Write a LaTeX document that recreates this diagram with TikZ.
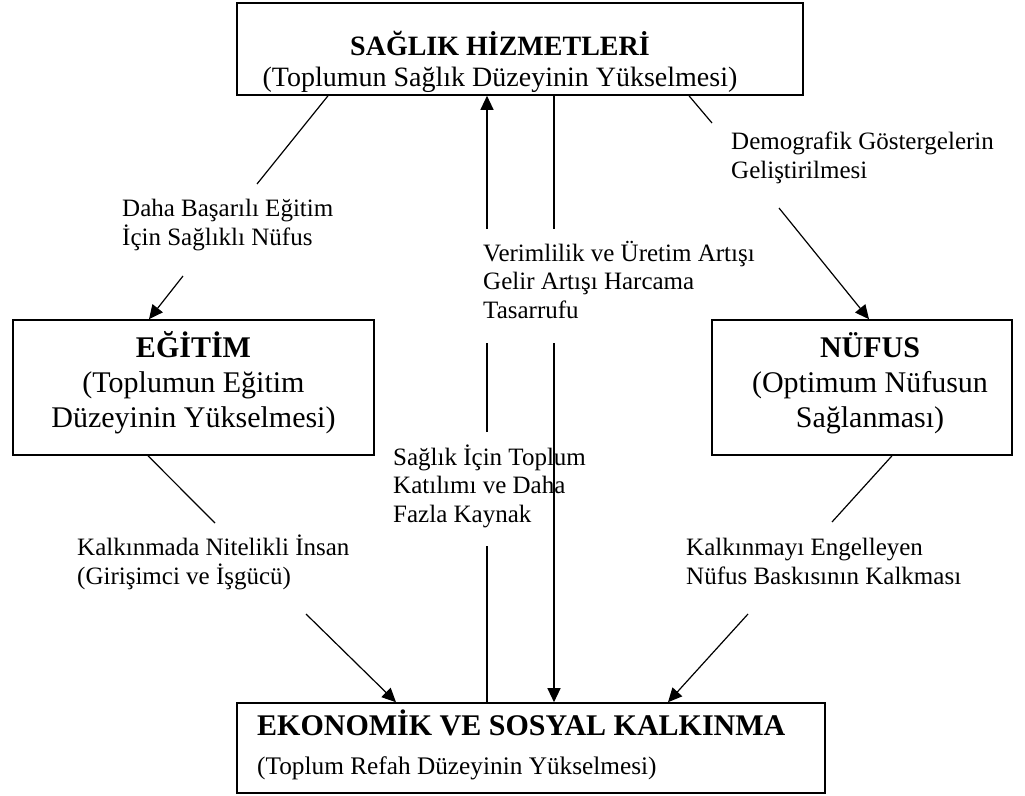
\documentclass[tikz,border=0pt]{standalone}
\usepackage{fontspec}
\setmainfont{Liberation Serif}
\usetikzlibrary{arrows.meta}

\begin{document}
\begin{tikzpicture}[
  x=1pt, y=-1pt,
  box/.style={draw, line width=1.6pt, rectangle, inner sep=0pt},
  link/.style={line width=1.2pt},
  arr/.style={-{Triangle[length=14pt,width=13pt]}},
  % multi-line nodes: the base anchor sits on the last line
  lbl/.style={anchor=base west, align=left, inner sep=0pt,
              font=\fontsize{25}{28.5}\selectfont},
  boxtxt/.style={anchor=base, align=center, inner sep=0pt}
]
\useasboundingbox (0,0) rectangle (1025,795);

% the four boxes
\node[box, minimum width=566pt, minimum height=92pt]  (saglik)   at (520,49)    {};
\node[box, minimum width=361pt, minimum height=135pt] (egitim)   at (193.5,387.5) {};
\node[box, minimum width=300pt, minimum height=135pt] (nufus)    at (862,387.5) {};
\node[box, minimum width=588pt, minimum height=90pt]  (kalkinma) at (531,748)   {};

% box texts
\node[boxtxt, font=\fontsize{28}{31}\selectfont] (saglikT) at (500,86)
  {\textbf{SAĞLIK HİZMETLERİ}\\(Toplumun Sağlık Düzeyinin Yükselmesi)};
\node[boxtxt, font=\fontsize{30}{35}\selectfont] (egitimT) at (193.5,427)
  {\textbf{EĞİTİM}\\(Toplumun Eğitim\\Düzeyinin Yükselmesi)};
\node[boxtxt, font=\fontsize{30}{35}\selectfont] (nufusT) at (870,427)
  {\textbf{NÜFUS}\\(Optimum Nüfusun\\Sağlanması)};
\node[anchor=base west, inner sep=0pt, font=\fontsize{30}{35}\selectfont\bfseries]
  (kalkinmaT1) at (257,735) {EKONOMİK VE SOSYAL KALKINMA};
\node[anchor=base west, inner sep=0pt, font=\fontsize{25.3}{29}\selectfont]
  (kalkinmaT2) at (257,774) {(Toplum Refah Düzeyinin Yükselmesi)};

% connector labels
\node[lbl] (l1) at (122,245) {Daha Başarılı Eğitim\\İçin Sağlıklı Nüfus};
\node[lbl] (l2) at (731,178) {Demografik Göstergelerin\\Geliştirilmesi};
\node[lbl] (l3) at (483,318) {Verimlilik ve Üretim Artışı\\Gelir Artışı Harcama\\Tasarrufu};
\node[lbl] (l4) at (393,522) {Sağlık İçin Toplum\\Katılımı ve Daha\\Fazla Kaynak};
\node[lbl] (l5) at (77,584)  {Kalkınmada Nitelikli İnsan\\(Girişimci ve İşgücü)};
\node[lbl] (l6) at (686,584) {Kalkınmayı Engelleyen\\Nüfus Baskısının Kalkması};

% end points of the broken connectors
\coordinate (tl0) at (328,0);  \coordinate (tlA) at (257,184);
\coordinate (tlB) at (183,276); \coordinate (tl1) at (149,0);
\coordinate (tr0) at (689,0);  \coordinate (trA) at (712,123);
\coordinate (trB) at (779,208); \coordinate (tr1) at (869,0);
\coordinate (lb0) at (148,0);  \coordinate (lbA) at (215,523);
\coordinate (lbB) at (306,614); \coordinate (lb1) at (396,0);
\coordinate (rb0) at (892,0);  \coordinate (rbA) at (832,522);
\coordinate (rbB) at (748,614); \coordinate (rb1) at (668,0);
\coordinate (upA) at (487,546); \coordinate (upB) at (487,432);
\coordinate (upC) at (487,343); \coordinate (upD) at (487,229);
\coordinate (dnA) at (554,229); \coordinate (dnB) at (554,343);

% health -> education
\draw[link] (saglik.south -| tl0) -- (tlA);
\draw[link, arr] (tlB) -- (egitim.north -| tl1);
% health -> population
\draw[link] (saglik.south -| tr0) -- (trA);
\draw[link, arr] (trB) -- (nufus.north -| tr1);
% education -> development
\draw[link] (egitim.south -| lb0) -- (lbA);
\draw[link, arr] (lbB) -- (kalkinma.north -| lb1);
% population -> development
\draw[link] (nufus.south -| rb0) -- (rbA);
\draw[link, arr] (rbB) -- (kalkinma.north -| rb1);
% development -> health
\draw[link] (kalkinma.north -| upA) -- (upA);
\draw[link] (upB) -- (upC);
\draw[link, arr] (upD) -- (saglik.south -| upD);
% health -> development
\draw[link] (saglik.south -| dnA) -- (dnA);
\draw[link, arr] (dnB) -- (kalkinma.north -| dnB);
\end{tikzpicture}
\end{document}
